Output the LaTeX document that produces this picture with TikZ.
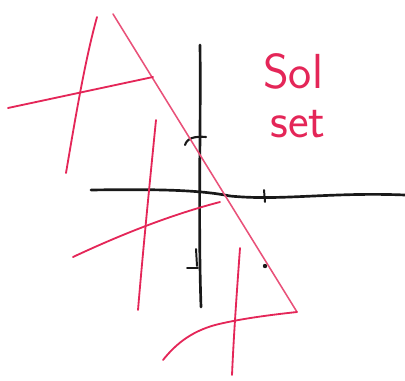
\documentclass[tikz,border=0pt]{standalone}
\usepackage{tikz}
\usetikzlibrary{positioning}
\definecolor{penred}{RGB}{228,38,88}
\definecolor{penblack}{RGB}{25,25,25}

\begin{document}
\begin{tikzpicture}[x=0.025cm,y=-0.025cm,line cap=round,line join=round,
  axis/.style={penblack,line width=1.9pt},
  hatch/.style={penred,line width=1.3pt},
  bound/.style={penred!80,line width=1.1pt},
  penlabel/.style={penred,font=\sffamily\fontsize{35}{40}\selectfont,inner sep=0pt,anchor=base west}]
\useasboundingbox (0,0) rectangle (405,380);
% axes
\draw[axis] (91,190) .. controls (160,189) and (200,190) .. (230,196)
  .. controls (280,201) and (330,192) .. (405,195);
\draw[axis] (200,45) .. controls (201,120) and (198,220) .. (201,307);
% ticks
\draw[axis,line width=1.5pt] (185,145) .. controls (187,138) and (195,136) .. (206,137);
\draw[axis,line width=1.4pt] (187,268) -- (198,268);
\draw[axis,line width=1.4pt] (196,249) -- (197,266);
\draw[axis,line width=1.4pt] (264,190) -- (265,202);
\fill[penblack] (265,266) circle (2.2);
% boundary of the solution set
\draw[bound] (113,14) -- (297,312);
\draw[hatch] (297,312) .. controls (260,316) and (235,320) .. (215,325)
  .. controls (190,332) and (175,345) .. (163,360);
% hatching
\draw[hatch] (97,17) .. controls (85,60) and (75,120) .. (66,173);
\draw[hatch] (8,108) -- (153,77);
\draw[hatch] (156,120) .. controls (150,180) and (143,250) .. (138,310);
\draw[hatch] (73,257) .. controls (120,235) and (170,215) .. (220,202);
\draw[hatch] (240,248) .. controls (237,290) and (234,330) .. (232,375);
% label
\node[penlabel] (sol) at (263,89) {Sol};
\node[penlabel] (set) at (270,137) {set};
\end{tikzpicture}
\end{document}
